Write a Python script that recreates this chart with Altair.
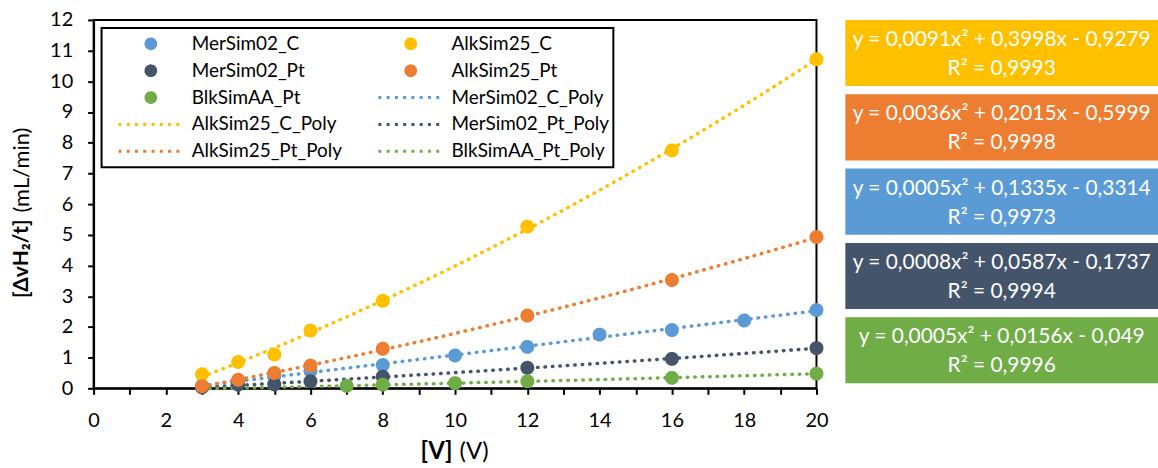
import altair as alt
import pandas as pd

# ---------------- data ----------------
series_names = ["MerSim02_C", "AlkSim25_C", "MerSim02_Pt", "AlkSim25_Pt", "BlkSimAA_Pt"]
series_colors = ["#5B9BD5", "#FFC000", "#44546A", "#ED7D31", "#70AD47"]

merC_x = [3, 4, 5, 6, 8, 10, 12, 14, 16, 18, 20]
merC_y = [0.08, 0.2, 0.4, 0.57, 0.76, 1.07, 1.35, 1.75, 1.9, 2.21, 2.55]

alkC_x = [3, 4, 5, 6, 8, 12, 16, 20]
alkC_y = [0.46, 0.86, 1.1, 1.88, 2.85, 5.27, 7.75, 10.72]

merPt_x = [3, 4, 5, 6, 8, 12, 16, 20]
merPt_y = [0.03, 0.12, 0.13, 0.23, 0.38, 0.67, 0.96, 1.31]

alkPt_x = [3, 4, 5, 6, 8, 12, 16, 20]
alkPt_y = [0.07, 0.28, 0.5, 0.74, 1.29, 2.37, 3.53, 4.93]

blk_x = [7, 8, 10, 12, 16, 20]
blk_y = [0.08, 0.12, 0.17, 0.23, 0.34, 0.48]

eq_lines = [
    "y = 0,0091x² + 0,3998x - 0,9279\nR² = 0,9993",
    "y = 0,0036x² + 0,2015x - 0,5999\nR² = 0,9998",
    "y = 0,0005x² + 0,1335x - 0,3314\nR² = 0,9973",
    "y = 0,0008x² + 0,0587x - 0,1737\nR² = 0,9994",
    "y = 0,0005x² + 0,0156x - 0,049\nR² = 0,9996",
]
eq_colors = ["#FFC000", "#ED7D31", "#5B9BD5", "#44546A", "#70AD47"]
eq_keys = ["e1", "e2", "e3", "e4", "e5"]

x_ticks = list(range(0, 21))
y_ticks = list(range(0, 13))

# ---------------- tables ----------------
rows = []
for name, xs, ys in zip(series_names,
                        [merC_x, alkC_x, merPt_x, alkPt_x, blk_x],
                        [merC_y, alkC_y, merPt_y, alkPt_y, blk_y]):
    for xv, yv in zip(xs, ys):
        rows.append({"series": name, "x": xv, "y": yv})
df = pd.DataFrame(rows)

eq_df = pd.DataFrame({"key": eq_keys, "text": eq_lines, "col": eq_colors})

poly_names = [n + "_Poly" for n in series_names]
all_names = series_names + poly_names
all_colors = series_colors + series_colors
CIRCLE = "M0.15,0A0.15,0.15,0,1,1,-0.15,0A0.15,0.15,0,1,1,0.15,0Z"
LINE = "M-1,0L1,0"
shapes = [CIRCLE] * 5 + [LINE] * 5
dashes = [[1, 0]] * 5 + [[3, 5.3]] * 5
right_col = all_names[1::2]
NBSP = "\u00a0" * 5

FONT = "Lato"
xscale = alt.Scale(domain=[0, 20], nice=False)
yscale = alt.Scale(domain=[0, 12], nice=False)

common_axis = dict(grid=False, domainColor="black", domainWidth=2,
                   tickColor="black", tickWidth=2, tickSize=6,
                   labelFont=FONT, labelFontSize=20, labelColor="black",
                   titleFont=FONT, titleColor="black")

x_axis_main = alt.Axis(orient="bottom", values=x_ticks,
                       labelExpr="datum.value % 2 == 0 ? datum.label : ''",
                       labelFlush=False, labelOverlap=False, labelPadding=16,
                       title="(V)", titleFontWeight="normal", titleFontSize=24,
                       titleX=367, titleY=63,
                       titleAlign="left", titleBaseline="middle", **common_axis)
y_axis_main = alt.Axis(orient="left", values=y_ticks, labelPadding=15,
                       labelOverlap=False,
                       title="(mL/min)", titleFontWeight="normal", titleFontSize=22,
                       titleX=-72, titleY=193,
                       titleAngle=270, titleAlign="left", titleBaseline="middle",
                       **common_axis)
x_axis_bold = alt.Axis(orient="bottom", labels=False, ticks=False, domain=False, grid=False,
                       title="[V]", titleFont=FONT, titleFontSize=24, titleColor="black",
                       titleFontWeight="bold", titleX=360, titleY=63,
                       titleAlign="right", titleBaseline="middle")
y_axis_bold = alt.Axis(orient="left", labels=False, ticks=False, domain=False, grid=False,
                       title="[ΔvH₂/t]", titleFont=FONT, titleFontSize=21, titleColor="black",
                       titleFontWeight="bold", titleX=-72, titleY=200, titleAngle=270,
                       titleAlign="right", titleBaseline="middle")

legend = alt.Legend(title=None, orient="top-left", direction="horizontal", offset=8,
                    columns=2, columnPadding=22, clipHeight=25, rowPadding=2, padding=3.5,
                    symbolSize=4225, symbolStrokeWidth=3, symbolOffset=12,
                    labelOffset=7, labelFont=FONT, labelFontSize=19, labelColor="black",
                    labelLimit=400, strokeColor="black", fillColor="white",
                    symbolOpacity=1,
                    labelExpr="indexof(" + str(right_col).replace('"', "'") +
                              ", datum.label) >= 0 ? datum.label + '" + NBSP + "' : datum.label")

lines = alt.Chart(df).transform_regression(
    "x", "y", groupby=["series"], method="poly", order=2, extent=[3, 20]
).transform_calculate(
    sp="datum.series + '_Poly'"
).mark_line(strokeWidth=3.5, strokeCap="round", strokeDash=[0.5, 7]).encode(
    x=alt.X("x:Q", scale=xscale, axis=x_axis_bold),
    y=alt.Y("y:Q", scale=yscale, axis=y_axis_bold),
    color=alt.Color("sp:N", scale=alt.Scale(domain=poly_names, range=series_colors), legend=None),
)

points = alt.Chart(df).mark_point(filled=True, size=6400, strokeWidth=2, opacity=1).encode(
    x=alt.X("x:Q", scale=xscale, axis=x_axis_main),
    y=alt.Y("y:Q", scale=yscale, axis=y_axis_main),
    fill=alt.Fill("series:N", scale=alt.Scale(domain=all_names, range=all_colors), legend=legend),
    stroke=alt.Stroke("series:N", scale=alt.Scale(domain=all_names, range=all_colors), legend=legend),
    shape=alt.Shape("series:N", scale=alt.Scale(domain=all_names, range=shapes), legend=legend),
    strokeDash=alt.StrokeDash("series:N", scale=alt.Scale(domain=all_names, range=dashes), legend=legend),
)

main = alt.layer(lines, points).resolve_scale(color="independent").resolve_axis(
    x="independent", y="independent"
).properties(width=726, height=370,
             view=alt.ViewBackground(stroke="black", strokeWidth=2))

boxes_rect = alt.Chart(eq_df).mark_rect().encode(
    y=alt.Y("key:N", axis=None,
            scale=alt.Scale(domain=eq_keys, paddingInner=0.11, paddingOuter=0)),
    fill=alt.Fill("col:N", scale=None, legend=None),
)
boxes_text = alt.Chart(eq_df).mark_text(color="white", font=FONT, fontSize=21,
                                        lineBreak="\n", lineHeight=29, dy=-13,
                                        align="center", baseline="middle").encode(
    y=alt.Y("key:N", axis=None,
            scale=alt.Scale(domain=eq_keys, paddingInner=0.11, paddingOuter=0)),
    text="text:N",
)
boxes = alt.layer(boxes_rect, boxes_text).properties(
    width=314, height=365, view=alt.ViewBackground(strokeWidth=0))

chart = alt.hconcat(main, boxes, spacing=16).properties(
    padding={"left": 10, "top": 8, "right": 0, "bottom": 0}
).configure_view(strokeWidth=0).configure_legend(strokeWidth=2)

chart.save("out.html", embed_options={"renderer": "svg", "actions": False})
